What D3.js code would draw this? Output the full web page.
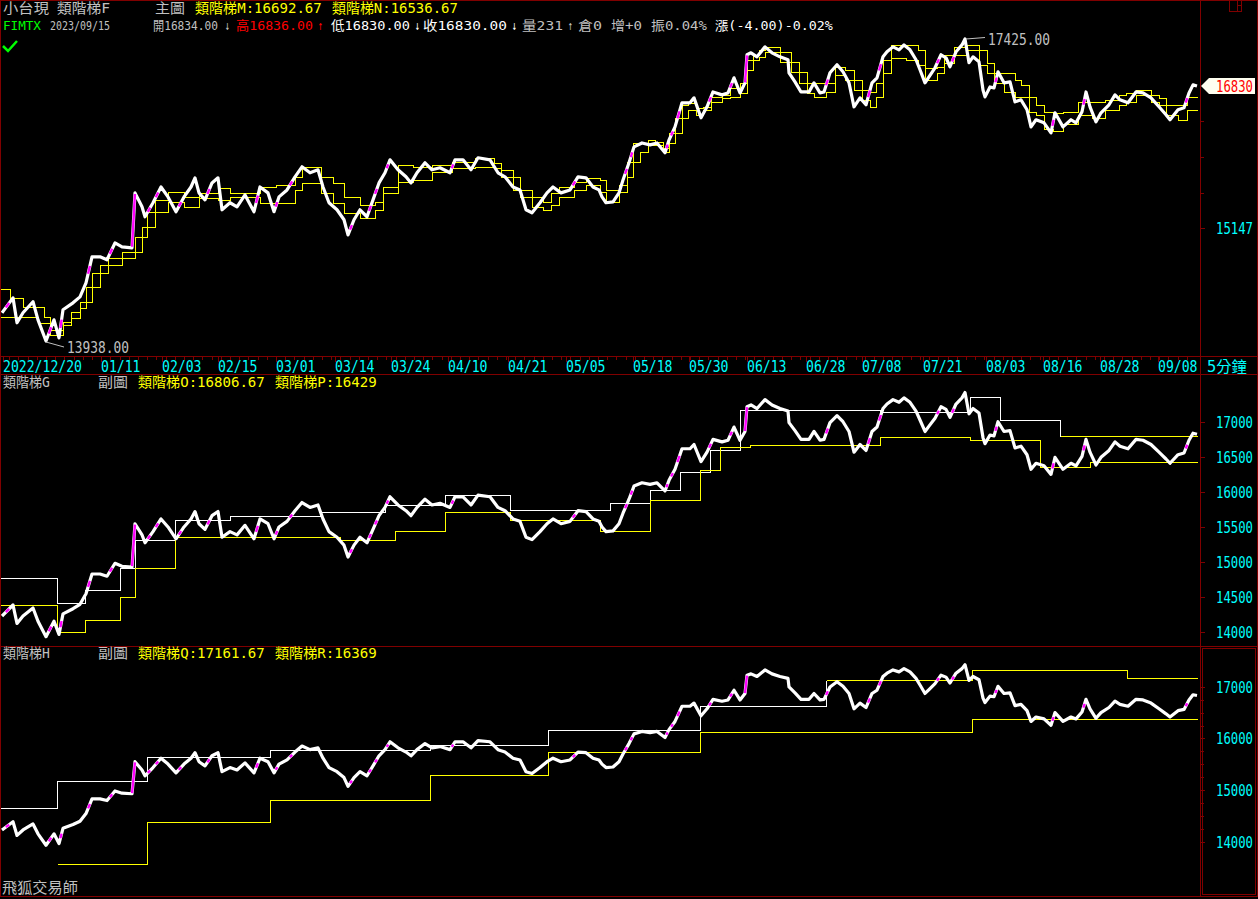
<!DOCTYPE html>
<html><head><meta charset="utf-8">
<script src="https://cdn.jsdelivr.net/npm/d3@7"></script>
<style>html,body{margin:0;padding:0;background:#000;overflow:hidden}svg{display:block}</style>
</head><body>
<script>
// ---------------- DATA ----------------
// 5-minute bar index (time axis) and close price of the 小台現 (FIMTX) series
const bars = [2,13,17,23,33,38,46,54,59,63,73,80,86,92,100,107,115,122,132,135,142,145,153,161,168,176,184,191,195,199,205,212,218,222,230,237,245,254,260,268,274,279,287,295,302,310,318,323,329,337,344,348,354,360,367,373,379,385,390,398,406,411,417,425,432,440,450,455,463,471,478,490,498,505,513,520,526,532,540,547,553,561,570,578,586,593,599,602,606,613,619,623,629,634,642,650,657,665,669,675,682,690,694,701,707,713,722,728,734,740,745,747,751,757,765,772,780,788,789,795,801,809,814,820,824,830,837,843,849,854,860,866,872,877,883,887,893,899,904,910,916,920,925,929,935,941,946,950,956,962,965,969,973,979,983,985,990,994,998,1004,1010,1015,1021,1027,1031,1036,1044,1051,1055,1063,1071,1076,1082,1086,1090,1096,1101,1109,1115,1120,1128,1136,1143,1151,1159,1166,1170,1178,1184,1189,1193,1197];
const closes = [14232,14390,14127,14232,14348,14158,13938,14158,13970,14264,14337,14400,14550,14833,14833,14801,14986,14943,14932,15551,15392,15279,15438,15619,15505,15336,15505,15619,15725,15551,15471,15666,15725,15358,15438,15392,15528,15336,15619,15551,15336,15505,15585,15737,15854,15784,15819,15619,15438,15358,15245,15075,15245,15358,15279,15471,15666,15784,15936,15819,15737,15666,15784,15901,15819,15843,15784,15936,15936,15819,15960,15936,15784,15737,15619,15585,15358,15324,15438,15551,15619,15551,15585,15737,15725,15619,15585,15505,15438,15449,15551,15701,15901,16089,16136,16113,16136,16019,16171,16329,16622,16622,16683,16439,16573,16756,16720,16744,16932,16744,16869,17223,17248,17197,17324,17248,17197,17160,16995,16881,16756,16756,16869,16744,16756,16995,17096,17008,16869,16573,16683,16598,16869,16932,17197,17261,17324,17286,17349,17286,17160,17033,16869,16945,17058,17223,17185,17071,17261,17349,17425,17122,17197,17134,16781,16695,16818,16806,17008,16869,16881,16634,16659,16537,16329,16415,16378,16256,16500,16329,16415,16378,16512,16756,16573,16390,16500,16598,16720,16659,16622,16756,16744,16683,16573,16476,16415,16537,16561,16744,16844,16830];
const lastBar = 1197;

// main chart stair lines M / N
const mainStepBars = [0,10,23,38,44,50,63,71,80,86,92,100,108,122,135,142,147,155,168,184,199,218,230,260,276,295,302,321,333,344,360,375,383,398,413,432,452,475,494,501,513,520,532,543,551,559,574,586,600,606,619,627,633,640,648,655,663,669,675,682,688,696,703,711,722,730,740,747,753,759,765,780,791,799,807,814,826,835,845,854,862,870,876,883,891,906,918,925,937,944,954,967,979,987,994,1004,1015,1021,1029,1036,1044,1053,1063,1078,1092,1105,1119,1126,1136,1151,1159,1166,1178,1187];
const lineM = [14484,14390,14295,14295,14190,14054,14138,14243,14348,14506,14659,14746,14823,14888,15053,15166,15336,15471,15562,15505,15551,15608,15551,15619,15643,15737,15854,15737,15666,15505,15415,15449,15619,15878,15854,15878,15913,15960,15901,15819,15737,15585,15505,15449,15551,15619,15678,15725,15702,15585,15643,15913,16136,16136,16171,16148,16077,16256,16439,16598,16622,16561,16573,16695,16720,16806,16869,17160,17223,17286,17324,17261,17134,17008,16869,16869,16869,17071,17033,16907,16781,16756,16869,17160,17349,17349,17286,17058,17071,17223,17324,17349,17286,17122,16995,16995,16907,16844,16695,16598,16512,16500,16512,16634,16634,16659,16720,16744,16781,16720,16683,16598,16598,16692.67];
const lineN = [14190,14190,14190,14127,14127,14001,14106,14180,14285,14348,14506,14659,14746,14823,14888,15053,15166,15336,15449,15392,15494,15471,15505,15438,15438,15585,15666,15551,15438,15324,15268,15358,15551,15678,15702,15796,15843,15854,15843,15737,15585,15505,15392,15358,15415,15505,15585,15643,15562,15449,15562,15737,15913,16030,16113,16113,16030,16136,16256,16439,16537,16476,16537,16634,16683,16695,16743,17033,17160,17197,17261,17134,17008,16869,16744,16695,16756,16970,16907,16781,16659,16573,16695,16995,17185,17160,17096,16907,16995,17122,17223,17286,17096,16995,16869,16756,16695,16695,16512,16476,16305,16280,16366,16476,16439,16537,16598,16634,16720,16634,16598,16476,16415,16536.67];

// sub chart G: stair lines O / P
const gStepBars = [0,57,85,120,135,175,230,320,340,385,395,445,510,600,610,650,680,700,710,720,740,750,790,880,970,1000,1040,1060,1090];
const lineO = [14776,14419,14604,14919,15319,15604,15661,15719,15719,15819,15819,15961,15747,15747,15847,16033,16290,16290,16604,16604,17176,17176,17176,17147,17361,17033,17033,16806.67,16806.67];
const lineP = [14390,14004,14176,14504,14919,15361,15361,15361,15319,15319,15447,15719,15604,15447,15447,15890,15890,16319,16319,16647,16647,16676,16676,16790,16747,16747,16361,16361,16429];

// sub chart H: stair lines Q / R
const hStepBars = [0,57,147,270,430,548,700,826,972,1127];
const lineQ = [14657,15178,15642,15777,15874,16164,16628,17129,17323,17161.67];
const lineR = [null,13575,14386,14811,15294,15739,16125,16125,16369,16369];

// time-axis labels
const dateLabels = ['2022/12/20','01/11','02/03','02/15','03/01','03/14','03/24','04/10','04/21','05/05','05/18','05/30','06/13','06/28','07/08','07/21','08/03','08/16','08/28','09/08'];
const dateBars = [3,101,162,218,276,335,391,448,508,566,633,689,747,806,862,923,986,1043,1100,1158];

// value-axis ticks
const mainTicks = [15147];
const mainMinorTicks = [15555,15975,16395];
const gTicks = [14000,14500,15000,15500,16000,16500,17000];
const hTicks = [14000,15000,16000,17000];
const hMinorTicks = [14250,14500,14750,15250,15500,15750,16250,16500,16750];

// quote line
const quoteDate = '2023/09/15';
const quoteOHLC = [16834.00,16836.00,16830.00,16830.00];
const quoteVol = 231, quoteOI = 0, quoteInc = 0, quoteAmp = 0.04, quoteChg = -4.00, quotePct = -0.02;

// ---------------- DRAW ----------------
const FONT = "'DejaVu Sans Mono','Noto Sans CJK TC',monospace";
const RED = '#800000', YEL = '#ffff00', WHITE = '#ffffff', GRAY = '#c0c0c0', CYAN = '#00ffff', MAG = '#ff00ff';
const svg = d3.select('body').append('svg').attr('width',1258).attr('height',899).style('background','#000');

const xS = d3.scaleLinear().domain([0,1196]).range([0,1196]);
const y1 = d3.scaleLog().domain([13938,17425]).range([341,39]);
const y2 = d3.scaleLinear().domain([14000,17000]).range([632.3,422.3]);
const y3 = d3.scaleLinear().domain([14000,17000]).range([842,686.7]);

const defs = svg.append('defs');
function clip(id,x,y,w,h){defs.append('clipPath').attr('id',id).append('rect').attr('x',x).attr('y',y).attr('width',w).attr('height',h);}
clip('c1',1,1,1199,355); clip('c2',1,375,1199,271); clip('c3',1,647,1199,249);

function txt(s,x,y,w,color,size){
  const t = svg.append('text').attr('x',0).attr('y',0).attr('fill',color).attr('font-size',size||14)
    .attr('font-family',FONT).text(s);
  let sx = 1;
  if(w){ const n = t.node().getComputedTextLength(); if(n>0) sx = w/n; }
  t.attr('transform',`translate(${x},${y}) scale(${sx.toFixed(4)},1)`);
  return t;
}
const fmt = v => Number.isInteger(v) ? String(v) : v.toFixed(2);
const px = v => Math.round(v)+0.5;

const pts = bars.map((b,i)=>({b, v:closes[i]}));

// stair line; segments starting at or after `switchBar` use colorB
function drawStep(g,yS,sb,vals,colorA,colorB,switchBar){
  const p = sb.map((b,i)=>({b, v:vals[i]}));
  p.push({b:lastBar, v:vals[vals.length-1]});
  const k = switchBar==null ? p.length-1 : sb.findIndex(b=>b>=switchBar);
  const mk = arr => g.append('path').datum(arr)
    .attr('d', d3.line().defined(d=>d.v!=null).curve(d3.curveStepAfter).x(d=>px(xS(d.b))).y(d=>px(yS(d.v))))
    .attr('fill','none').attr('stroke-width',1).attr('shape-rendering','crispEdges');
  mk(p.slice(0,k+1)).attr('stroke',colorA);
  if(switchBar!=null) mk(p.slice(k)).attr('stroke',colorB);
}
function drawPrice(g,yS){
  g.append('path').datum(pts)
    .attr('d', d3.line().x(d=>xS(d.b)).y(d=>yS(d.v)))
    .attr('fill','none').attr('stroke','#fff').attr('stroke-width',3.2).attr('stroke-linejoin','round');
  for(let i=1;i<pts.length;i++){
    const dv = pts[i].v - pts[i-1].v;
    if(dv > 150){
      const xa=xS(pts[i-1].b), ya=yS(pts[i-1].v), xb=xS(pts[i].b), yb=yS(pts[i].v);
      const t0 = dv>300?0.02:0.35, t1 = dv>300?0.98:0.65;
      g.append('line').attr('x1',xa+(xb-xa)*t0).attr('y1',ya+(yb-ya)*t0)
        .attr('x2',xa+(xb-xa)*t1).attr('y2',ya+(yb-ya)*t1)
        .attr('stroke',MAG).attr('stroke-width',2.4);
    }
  }
}

// panel 1
const g1 = svg.append('g').attr('clip-path','url(#c1)');
drawStep(g1,y1,mainStepBars,lineM,YEL);
drawStep(g1,y1,mainStepBars,lineN,YEL);
drawPrice(g1,y1);
// panel 2
const g2 = svg.append('g').attr('clip-path','url(#c2)');
drawStep(g2,y2,gStepBars,lineO,WHITE,YEL,1060);
drawStep(g2,y2,gStepBars,lineP,YEL);
drawPrice(g2,y2);
// panel 3
const g3 = svg.append('g').attr('clip-path','url(#c3)');
drawStep(g3,y3,hStepBars,lineQ,WHITE,YEL,826);
drawStep(g3,y3,hStepBars,lineR,YEL);
drawPrice(g3,y3);

// high / low markers
const iMax = d3.maxIndex(closes), iMin = d3.minIndex(closes);
{
  const hx = xS(bars[iMax]), hy = y1(closes[iMax]);
  svg.append('line').attr('x1',hx+1).attr('y1',hy).attr('x2',hx+20).attr('y2',hy-1.5).attr('stroke',GRAY).attr('stroke-width',1);
  txt(closes[iMax].toFixed(2),hx+23,hy+5.5,62,GRAY,15);
  const lx = xS(bars[iMin]), ly = y1(closes[iMin]);
  svg.append('line').attr('x1',lx).attr('y1',ly+1).attr('x2',lx+18).attr('y2',ly+6).attr('stroke',GRAY).attr('stroke-width',1);
  txt(closes[iMin].toFixed(2),lx+21,ly+11.5,62,GRAY,15);
}

// frame
const fr = svg.append('g').attr('stroke',RED).attr('fill','none').attr('stroke-width',1).attr('shape-rendering','crispEdges');
fr.append('rect').attr('x',0.5).attr('y',0.5).attr('width',1257).attr('height',896);
fr.append('line').attr('x1',1200.5).attr('x2',1200.5).attr('y1',0).attr('y2',897);
[356.5,374.5,646.5].forEach(y=>fr.append('line').attr('x1',0).attr('x2',1258).attr('y1',y).attr('y2',y));
fr.append('rect').attr('x',1202.5).attr('y',648.5).attr('width',53).attr('height',246);
fr.append('rect').attr('x',1229.5).attr('y',0.5).attr('width',12).attr('height',10.5);
fr.append('line').attr('x1',1237.5).attr('x2',1237.5).attr('y1',0).attr('y2',11);
fr.append('line').attr('x1',1237.5).attr('x2',1242).attr('y1',5.5).attr('y2',5.5);

// time axis
d3.range(0,1196,9.2).forEach(b=>fr.append('line').attr('x1',px(xS(b))).attr('x2',px(xS(b))).attr('y1',357).attr('y2',360));
dateBars.forEach(b=>fr.append('line').attr('x1',px(xS(b))).attr('x2',px(xS(b))).attr('y1',357).attr('y2',362));
dateLabels.forEach((s,i)=>txt(s,xS(dateBars[i]),371.5,s.length*7.9,CYAN,16));
txt('5分鐘',1207,372,40,CYAN,15);

// value axes
function vTick(y,len){fr.append('line').attr('x1',1200).attr('x2',1200+len).attr('y1',px(y)).attr('y2',px(y));}
mainTicks.forEach(v=>{vTick(y1(v),5); txt(String(v),1216,y1(v)+6,37,CYAN,16);});
mainMinorTicks.forEach(v=>vTick(y1(v),4));
gTicks.forEach(v=>{vTick(y2(v),5); txt(String(v),1216,y2(v)+6,37,CYAN,16);});
hTicks.forEach(v=>{vTick(y3(v),5); txt(String(v),1216,y3(v)+6,37,CYAN,16);});
hMinorTicks.forEach(v=>vTick(y3(v),4));

// last price tag
{
  const ly = y1(closes[closes.length-1]);
  svg.append('path').attr('d',`M1201,${ly} L1209,${ly-8} L1255,${ly-8} L1255,${ly+8} L1209,${ly+8} Z`).attr('fill','#fffff0');
  txt(String(closes[closes.length-1]),1216,ly+6,37,'#ff0000',16);
}

// header line 1
txt('小台現',3,13,46,GRAY,14);
txt('類階梯F',57,13,53,GRAY,14);
txt('主圖',155,13,30,GRAY,14);
txt('類階梯M:'+fmt(lineM[lineM.length-1]),195,13,127,YEL,14);
txt('類階梯N:'+fmt(lineN[lineN.length-1]),332,13,126,YEL,14);
// header line 2
const L2 = 29.5, S2 = 13;
txt('FIMTX',3,L2,38,'#00ff00',S2);
txt(quoteDate,50,L2,60,GRAY,S2);
txt('開'+quoteOHLC[0].toFixed(2),153,L2,65,GRAY,S2);
txt('↓',225,L2,5,GRAY,S2);
txt('高'+quoteOHLC[1].toFixed(2),236,L2,77,'#ff0000',S2);
txt('↑',318,L2,5,'#ff0000',S2);
txt('低'+quoteOHLC[2].toFixed(2),331,L2,79,'#ffffff',S2);
txt('↓',415,L2,5,'#ffffff',S2);
txt('收'+quoteOHLC[3].toFixed(2),423,L2,84,'#ffffff',S2);
txt('↓',512,L2,5,'#ffffff',S2);
txt('量'+quoteVol,522,L2,41,GRAY,S2);
txt('↑',568,L2,5,GRAY,S2);
txt('倉'+quoteOI,578,L2,24,GRAY,S2);
txt('增+'+quoteInc,611,L2,31,GRAY,S2);
txt('振'+quoteAmp.toFixed(2)+'%',651,L2,56,GRAY,S2);
txt('漲('+quoteChg.toFixed(2)+')'+quotePct.toFixed(2)+'%',715,L2,118,'#ffffff',S2);
svg.append('path').attr('d','M3,46 L8,51 L17,41').attr('fill','none').attr('stroke','#00ff00').attr('stroke-width',2.5);

// sub chart headers
txt('類階梯G',3,387,47,GRAY,14);
txt('副圖',98,387,30,GRAY,14);
txt('類階梯O:'+fmt(lineO[lineO.length-1]),138,387,127,YEL,14);
txt('類階梯P:'+fmt(lineP[lineP.length-1]),275,387,102,YEL,14);
txt('類階梯H',3,658,47,GRAY,14);
txt('副圖',98,658,30,GRAY,14);
txt('類階梯Q:'+fmt(lineQ[lineQ.length-1]),138,658,127,YEL,14);
txt('類階梯R:'+fmt(lineR[lineR.length-1]),275,658,102,YEL,14);

txt('飛狐交易師',2,893,76,GRAY,15);
</script>
</body></html>
